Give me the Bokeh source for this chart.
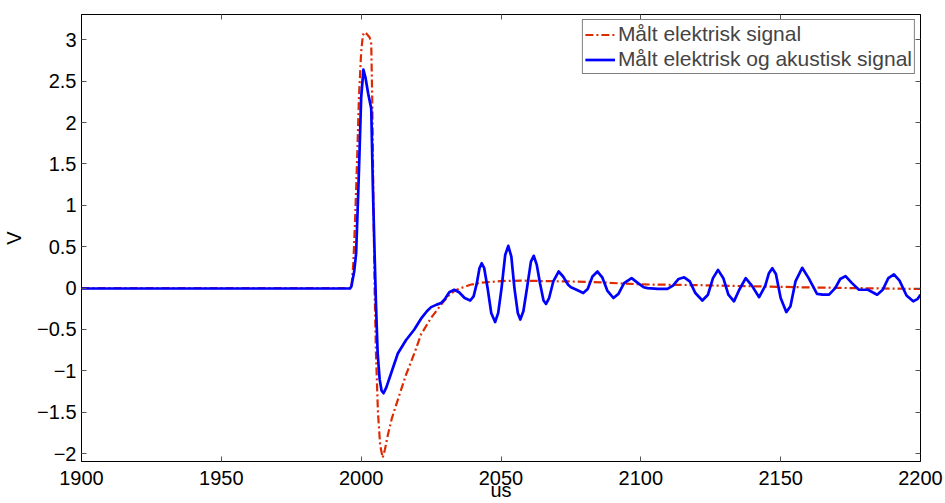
from bokeh.plotting import figure
from bokeh.models import LinearAxis, FixedTicker, Legend, LegendItem, Range1d
from bokeh.embed import file_html
from bokeh.resources import INLINE

# Measured electric signal (red dash-dot)
t_el = [1900, 1996.5, 1997.2, 1997.8, 1998.5, 1999.2, 2000, 2000.6, 2001.1, 2002, 2003, 2003.6,
        2004.0, 2004.4, 2004.8, 2005.3, 2006, 2006.8, 2007.7, 2008.5, 2009.5, 2011, 2013.1,
        2016, 2019, 2021.4, 2025, 2028.6, 2031, 2033.5, 2035.7, 2039, 2042.9, 2050, 2057,
        2065, 2075, 2085.7, 2093, 2100, 2110, 2121, 2135, 2157, 2175, 2200]
v_el = [0.0, 0.0, 0.3, 0.8, 1.5, 2.3, 2.85, 3.05, 3.09, 3.07, 3.03, 2.95,
        2.2, 1.0, 0.0, -0.8, -1.5, -1.9, -2.05, -1.95, -1.78, -1.57, -1.35,
        -1.05, -0.79, -0.56, -0.36, -0.20, -0.10, -0.03, 0.0, 0.04, 0.065, 0.085, 0.09,
        0.085, 0.08, 0.07, 0.056, 0.045, 0.04, 0.035, 0.025, 0.01, 0.0, -0.01]

# Measured electric and acoustic signal (blue solid)
t_ea = [1900, 1996, 1996.5, 1997.5, 1998.2, 1999.0, 1999.4, 2000.0, 2000.8, 2001.5, 2002.5,
        2003.6, 2004.2, 2004.8, 2005.3, 2005.9, 2006.6, 2007.3, 2008.0, 2009, 2010.5, 2013.1,
        2016, 2019, 2021.4, 2023.5, 2025, 2027, 2028.6, 2030, 2031.5, 2033.3, 2035, 2037,
        2039, 2040.2, 2041.3, 2042.3, 2043.1, 2044, 2045.2, 2046.5, 2047.9, 2049, 2050.2,
        2051.5, 2052.6, 2053.7, 2054.8, 2056, 2056.9, 2058, 2059.3, 2060.7, 2061.7, 2062.8,
        2064, 2065.2, 2066.1, 2067.2, 2068.7, 2070.6, 2072.2, 2074, 2075, 2077, 2079.4,
        2081, 2082.7, 2084.5, 2086.2, 2088, 2090.2, 2092, 2094, 2096.7, 2099, 2101, 2102.4,
        2106, 2109.5, 2111.5, 2113.5, 2115.5, 2117.5, 2119.5, 2122, 2124, 2125.8, 2127.6,
        2129.5, 2131.3, 2133.3, 2135.2, 2137.5, 2139.7, 2142.3, 2144.5, 2145.8, 2147,
        2148.3, 2150, 2152, 2153.5, 2155.3, 2157.7, 2160, 2163, 2165, 2167.3, 2169.5,
        2171.3, 2173.2, 2175.5, 2178, 2181.2, 2184.5, 2186.5, 2188.5, 2190.5, 2192.5,
        2195, 2197.4, 2199, 2200]
v_ea = [-0.005, -0.005, 0.02, 0.2, 0.42, 1.2, 1.63, 2.3, 2.64, 2.55, 2.35,
        2.17, 1.2, 0.42, -0.2, -0.79, -1.1, -1.24, -1.27, -1.2, -1.05, -0.79,
        -0.63, -0.50, -0.37, -0.28, -0.23, -0.20, -0.18, -0.13, -0.05, -0.02, -0.05, -0.12,
        -0.15, -0.10, 0.05, 0.24, 0.30, 0.24, 0.0, -0.3, -0.41, -0.3, 0.0,
        0.40, 0.51, 0.38, 0.0, -0.3, -0.38, -0.28, 0.0, 0.32, 0.39, 0.28,
        0.05, -0.15, -0.19, -0.12, 0.08, 0.20, 0.14, 0.04, 0.01, -0.02, -0.06,
        -0.01, 0.14, 0.20, 0.13, -0.03, -0.12, -0.07, 0.06, 0.12, 0.06, 0.01, 0.0,
        -0.01, -0.01, 0.03, 0.11, 0.13, 0.08, -0.06, -0.15, -0.08, 0.12, 0.22,
        0.12, -0.08, -0.16, -0.02, 0.12, 0.03, -0.11, 0.03, 0.18, 0.24,
        0.17, -0.12, -0.29, -0.22, 0.08, 0.245, 0.12, -0.07, -0.08, -0.08, 0.0,
        0.11, 0.145, 0.06, -0.02, -0.02, -0.08, -0.02, 0.12, 0.165, 0.09,
        -0.09, -0.16, -0.13, -0.08]

x_ticks = [1900, 1950, 2000, 2050, 2100, 2150, 2200]
y_ticks = [-2, -1.5, -1, -0.5, 0, 0.5, 1, 1.5, 2, 2.5, 3]
labels = ["Målt elektrisk signal", "Målt elektrisk og akustisk signal"]

FONT = "Liberation Sans"
FS = "20px"

p = figure(width=945, height=503, output_backend="svg", toolbar_location=None,
           x_range=Range1d(1900, 2200), y_range=Range1d(-2.095, 3.305),
           min_border_left=80, min_border_right=25, min_border_top=14, min_border_bottom=42)
p.xgrid.visible = False
p.ygrid.visible = False
p.outline_line_color = "black"
p.outline_line_width = 1
p.background_fill_color = "white"
p.border_fill_color = "white"

for ax in (p.xaxis[0], p.yaxis[0]):
    ax.major_tick_in = 5
    ax.major_tick_out = 0
    ax.minor_tick_line_color = None
    ax.major_label_text_font = FONT
    ax.major_label_text_font_size = FS
    ax.major_label_text_color = "black"
    ax.axis_label_text_font = FONT
    ax.axis_label_text_font_size = FS
    ax.axis_label_text_font_style = "normal"
    ax.axis_label_text_color = "black"
    ax.major_tick_line_color = "#555555"

p.xaxis[0].ticker = FixedTicker(ticks=x_ticks)
p.yaxis[0].ticker = FixedTicker(ticks=y_ticks)
p.xaxis[0].axis_label = "us"
p.yaxis[0].axis_label = "V"
p.xaxis[0].major_label_standoff = 9
p.xaxis[0].axis_label_standoff = -9
p.yaxis[0].major_label_standoff = 5
p.yaxis[0].axis_label_standoff = 9
p.yaxis[0].major_label_overrides = {v: ("%g" % v).replace("-", "\u2212") for v in y_ticks}

top = LinearAxis(ticker=FixedTicker(ticks=x_ticks),
                 major_label_overrides={v: "" for v in x_ticks},
                 major_label_text_color=None, major_label_text_alpha=0,
                 major_tick_in=5, major_tick_out=0, minor_tick_line_color=None,
                 major_tick_line_color="#555555", major_label_standoff=0)
right = LinearAxis(ticker=FixedTicker(ticks=y_ticks),
                   major_label_overrides={v: "" for v in y_ticks},
                   major_label_text_color=None, major_label_text_alpha=0,
                   major_tick_in=5, major_tick_out=0, minor_tick_line_color=None,
                   major_tick_line_color="#555555", major_label_standoff=0)
p.add_layout(top, "above")
p.add_layout(right, "right")

r1 = p.line(t_el, v_el, line_color="#dd2a00", line_width=2.2, line_dash="8 3 2 3")
r2 = p.line(t_ea, v_ea, line_color="#0000ff", line_width=2.7, line_join="round")

legend = Legend(items=[LegendItem(label=labels[0], renderers=[r1]),
                       LegendItem(label=labels[1], renderers=[r2])],
                location="top_right")
legend.label_text_font = FONT
legend.label_text_font_size = "21px"
legend.label_height = 21
legend.glyph_width = 30
legend.glyph_height = 21
legend.spacing = 1
legend.padding = 2
legend.margin = 5
legend.label_standoff = 3
legend.border_line_color = "black"
legend.border_line_width = 1
legend.background_fill_alpha = 1
p.add_layout(legend, "center")

open("out.html", "w").write(file_html(p, INLINE))
